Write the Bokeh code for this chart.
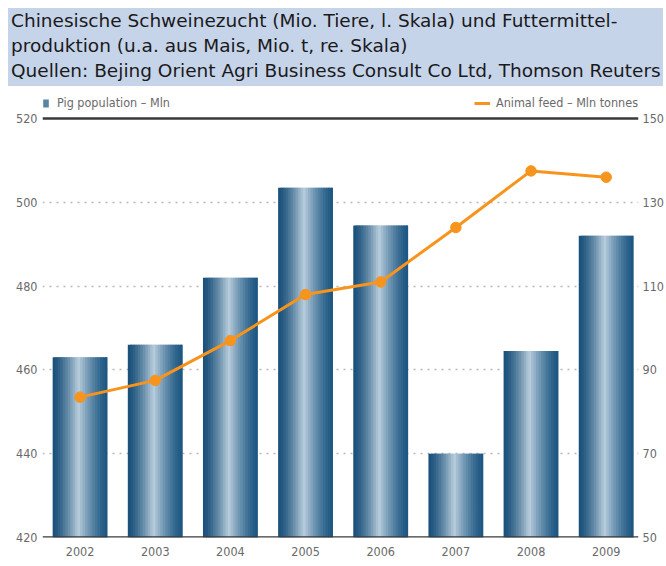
from bokeh.plotting import figure
from bokeh.models import (Range1d, LinearAxis, FixedTicker, Span, Legend, LegendItem,
                          Div, ColumnDataSource)
from bokeh.layouts import column
from bokeh.embed import file_html
from bokeh.resources import INLINE

# ---- data ----
years = ["2002", "2003", "2004", "2005", "2006", "2007", "2008", "2009"]
pig_population = [463, 466, 482, 503.5, 494.5, 440, 464.5, 492]
animal_feed = [83.5, 87.5, 97, 108, 111, 124, 137.5, 136]
left_ticks = [420, 440, 460, 480, 500, 520]
right_ticks = [50, 70, 90, 110, 130, 150]
title_lines = [
    "Chinesische Schweinezucht (Mio. Tiere, l. Skala) und Futtermittel-",
    "produktion (u.a. aus Mais, Mio. t, re. Skala)",
    "Quellen: Bejing Orient Agri Business Consult Co Ltd, Thomson Reuters",
]

W = 658
NARROW = "DejaVu Sans Condensed"
LABEL_COLOR = "#6a6a6a"
HEAD = 5.5  # extra room above the 520 line for the legends (axis units)

title = Div(
    text="<br>".join(title_lines),
    width=655, height=78, margin=(0, 0, 0, 0),
    styles={
        "background-color": "#c6d4ea",
        "font-family": "'DejaVu Sans', sans-serif",
        "font-size": "18.5px",
        "line-height": "25px",
        "color": "#1a1a1a",
        "padding": "0px 0px 0px 3px",
        "box-sizing": "border-box",
        "white-space": "nowrap",
    },
)

p = figure(width=W, height=473,
           x_range=Range1d(-0.5, len(years) - 0.57),
           y_range=Range1d(left_ticks[0], left_ticks[-1] + HEAD),
           output_backend="svg", toolbar_location=None,
           min_border_left=34, min_border_right=10, min_border_top=9, min_border_bottom=22)
p.extra_y_ranges = {"feed": Range1d(right_ticks[0], right_ticks[-1] + HEAD)}
p.outline_line_color = None
p.background_fill_color = "white"
p.border_fill_color = "white"

# axes
p.yaxis.ticker = FixedTicker(ticks=left_ticks)
p.xaxis.ticker = FixedTicker(ticks=list(range(len(years))))
p.xaxis.major_label_overrides = {i: y for i, y in enumerate(years)}
rax = LinearAxis(y_range_name="feed", ticker=FixedTicker(ticks=right_ticks))
p.add_layout(rax, "right")
for ax in (p.xaxis[0], p.yaxis[0], rax):
    ax.axis_line_color = None
    ax.major_tick_line_color = None
    ax.minor_tick_line_color = None
    ax.major_label_text_font = NARROW
    ax.major_label_text_font_size = "12.5px"
    ax.major_label_text_color = LABEL_COLOR
for ax in (p.yaxis[0], rax):
    ax.major_tick_out = 0
    ax.major_tick_in = 0
    ax.minor_tick_out = 0
    ax.minor_tick_in = 0
p.yaxis.major_label_standoff = 5
rax.major_label_standoff = 4
p.xaxis.major_label_standoff = 3

# grid
p.xgrid.grid_line_color = None
p.ygrid.ticker = FixedTicker(ticks=left_ticks[1:-1])
p.ygrid.grid_line_color = "#b8b8b8"
p.ygrid.grid_line_dash = "2 5"
p.ygrid.grid_line_width = 1.5


# bars with horizontal gradient (drawn as overlapping strips)
def lerp(c1, c2, t):
    return "#%02x%02x%02x" % tuple(int(round(a + (b - a) * t)) for a, b in zip(c1, c2))


dark_l = (25, 80, 122)
dark_r = (28, 86, 130)
light = (184, 205, 220)
bar_w = 0.73
N = 22
xs = list(range(len(years)))
bar_renderer = None
for k in range(N):
    t = (k + 0.5) / N
    peak = 0.47
    if t < peak:
        s = (t / peak) ** 1.4
        col = lerp(dark_l, light, s)
    else:
        s = ((1 - t) / (1 - peak)) ** 1.4
        col = lerp(dark_r, light, s)
    seg = bar_w / N
    left = -bar_w / 2 + k * seg
    right = min(left + seg * 1.8, bar_w / 2)
    src = ColumnDataSource(dict(x=[x + (left + right) / 2 for x in xs], top=pig_population))
    r = p.vbar(x="x", top="top", bottom=left_ticks[0], width=right - left, source=src,
               fill_color=col, line_color=None)
    if k == 5:
        bar_renderer = r

# top and base lines
p.add_layout(Span(location=left_ticks[-1], dimension="width", line_color="#3a3a3a", line_width=2.5))
p.add_layout(Span(location=left_ticks[0], dimension="width", line_color="#3a3a3a", line_width=2.5))

# feed line
orange = "#f7941d"
fsrc = ColumnDataSource(dict(x=xs, y=animal_feed))
line_r = p.line("x", "y", source=fsrc, y_range_name="feed", line_color=orange, line_width=3)
p.scatter("x", "y", source=fsrc, y_range_name="feed", size=10.5, fill_color=orange,
          line_color=orange)

# legends at the two top corners
common = dict(background_fill_alpha=0, border_line_color=None,
              label_text_font=NARROW, label_text_font_size="12.5px",
              label_text_color=LABEL_COLOR, padding=0, margin=0, label_height=14)
leg1 = Legend(items=[LegendItem(label="Pig population – Mln", renderers=[bar_renderer])],
              location="top_left", glyph_width=7, glyph_height=10, label_standoff=8, **common)
leg2 = Legend(items=[LegendItem(label="Animal feed – Mln tonnes", renderers=[line_r])],
              location="top_right", glyph_width=16, glyph_height=10, label_standoff=6, **common)
p.add_layout(leg1, "center")
p.add_layout(leg2, "center")

layout = column(title, p, spacing=0, margin=(8, 0, 0, 8))
open("out.html", "w").write(file_html(layout, INLINE))
